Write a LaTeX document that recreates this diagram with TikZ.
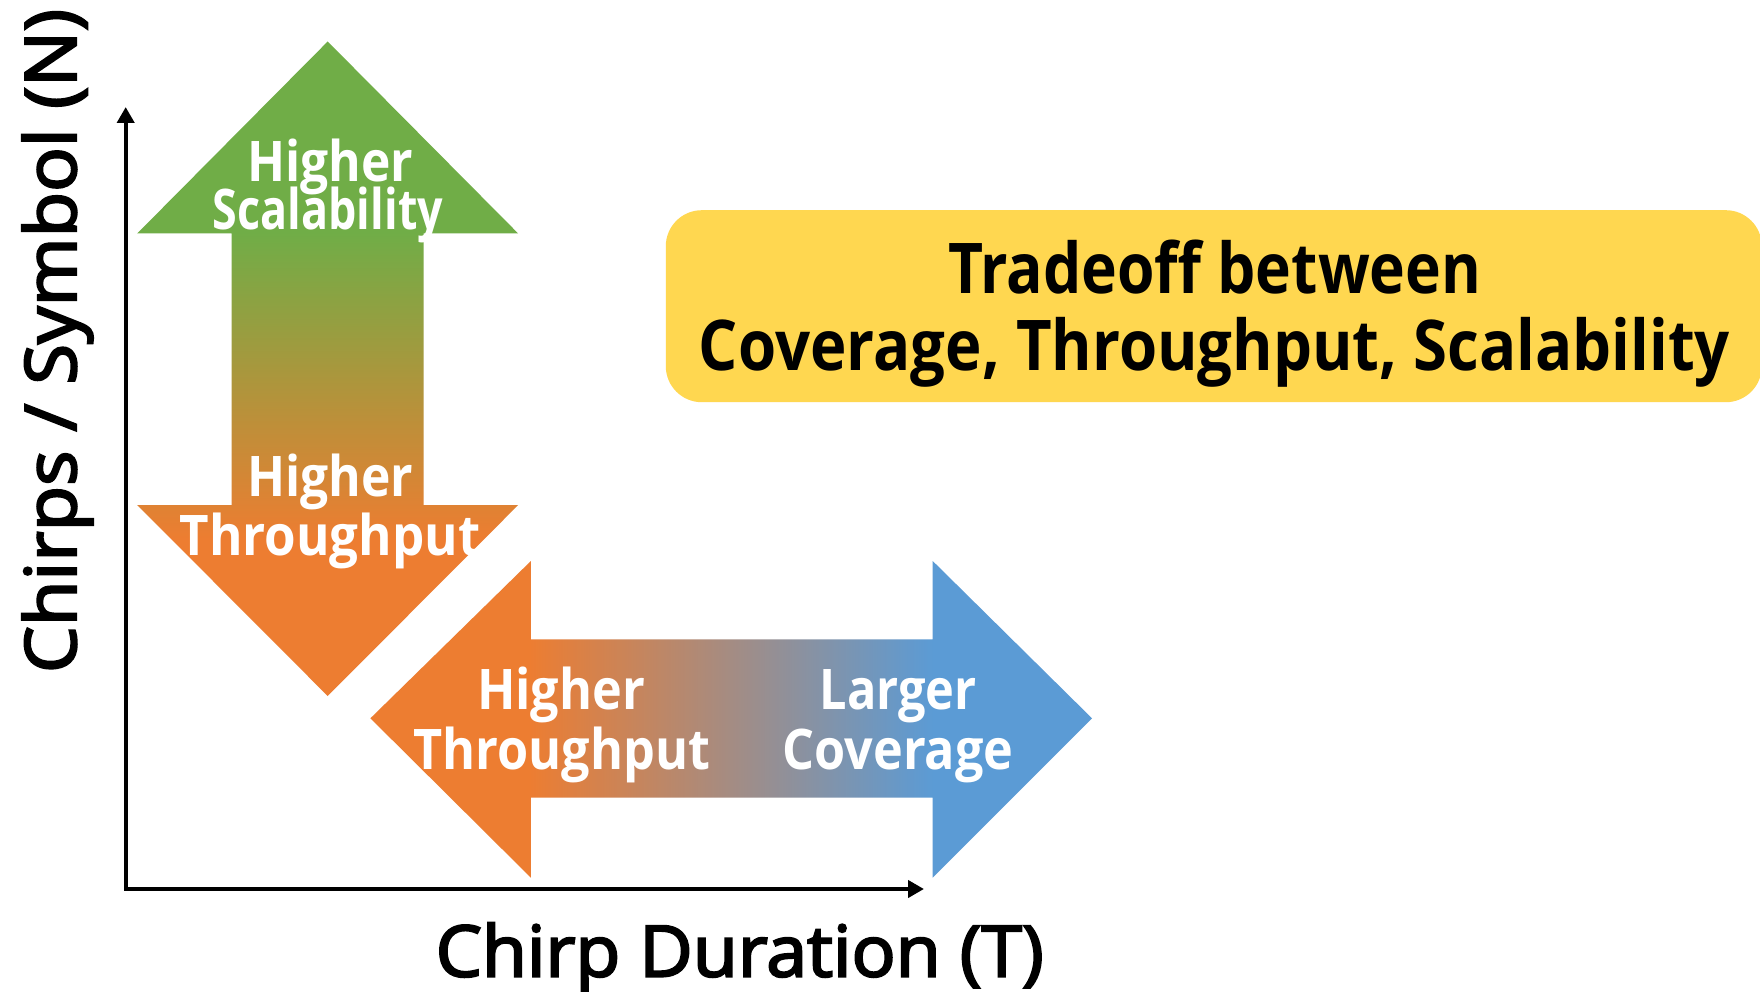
\documentclass[tikz,border=0pt]{standalone}
\usepackage{fontspec}
\usepackage{graphicx}
\setmainfont{Open Sans}
\newfontfamily\axfont[FakeBold=3]{Open Sans}
\usetikzlibrary{arrows.meta}
\definecolor{gr}{RGB}{112,173,71}
\definecolor{orr}{RGB}{237,125,49}
\definecolor{bl}{RGB}{91,155,213}
\definecolor{yel}{RGB}{255,215,80}
\pgfdeclareverticalshading{vgrad}{100bp}{color(0bp)=(orr); color(37bp)=(orr); color(60.4bp)=(gr); color(100bp)=(gr)}
\pgfdeclarehorizontalshading{hgrad}{100bp}{color(0bp)=(orr); color(36bp)=(orr); color(64bp)=(bl); color(100bp)=(bl)}
\newcommand\fitw[2]{\resizebox{#1}{\height}{#2}}
\begin{document}
\begin{tikzpicture}[x=1pt,y=-1pt,
  wlab/.style={text=white, inner sep=0pt, anchor=base, font=\bfseries\fontsize{56pt}{60pt}\selectfont},
  tlab/.style={text=black, inner sep=0pt, anchor=base, font=\bfseries\fontsize{70pt}{80pt}\selectfont},
  axlab/.style={text=black, inner sep=0pt, anchor=base, font=\axfont\fontsize{71pt}{80pt}\selectfont},
  axisline/.style={line width=4pt, line cap=rect, -{Triangle[length=16pt,width=17pt]}},
  ybox/.style={fill=yel, rounded corners=36pt, draw=none, inner sep=0pt}]
\path[fill=white] (0,0) rectangle (1760,992);
\useasboundingbox (0,0) rectangle (1760,992);

% vertical double arrow
\shade[shading=vgrad] (327.7,41.5) -- (518.2,233.5) -- (423.7,233.5) -- (423.7,505)
  -- (518.2,505) -- (327.7,696) -- (137.2,505) -- (231.7,505) -- (231.7,233.5)
  -- (137.2,233.5) -- cycle;

% horizontal double arrow
\shade[shading=hgrad] (370.4,718.3) -- (530.9,561) -- (530.9,639.3) -- (932.7,639.3)
  -- (932.7,561) -- (1092,718.3) -- (932.7,877.7) -- (932.7,797.5) -- (530.9,797.5)
  -- (530.9,877.7) -- cycle;

% labels on arrows
\node[wlab] (uhigh) at (330,182) {\fitw{166pt}{Higher}};
\node[wlab] (uscal) at (328,230) {\fitw{230pt}{Scalability}};
\node[wlab] (dhigh) at (330,496) {\fitw{166pt}{Higher}};
\node[wlab] (dthr) at (330,555.6) {\fitw{301pt}{Throughput}};
\node[wlab] (lhigh) at (561,709) {\fitw{168pt}{Higher}};
\node[wlab] (lthr) at (562,769) {\fitw{297pt}{Throughput}};
\node[wlab] (rlarg) at (898,709) {\fitw{157pt}{Larger}};
\node[wlab] (rcov) at (898,769) {\fitw{231pt}{Coverage}};

% title box
\node[ybox, minimum width=1096pt, minimum height=192pt, anchor=north west] (title) at (665.6,210) {};
\node[tlab] (t1) at (1214.8,294) {\fitw{533pt}{Tradeoff between}};
\node[tlab] (t2) at (1214.5,370) {\fitw{1031pt}{Coverage, Throughput, Scalability}};

% axes
\coordinate (O) at (125.7,889);
\coordinate (Ytip) at (125.7,107);
\coordinate (Xtip) at (924,889);
\draw[axisline] (O) -- (Ytip);
\draw[axisline] (O) -- (Xtip);
\node[axlab] (xlab) at (739.7,976.5) {\fitw{608pt}{Chirp Duration (T)}};
\node[axlab, rotate=90] (ylab) at (76,341) {\fitw{664pt}{Chirps / Symbol (N)}};
\end{tikzpicture}
\end{document}
